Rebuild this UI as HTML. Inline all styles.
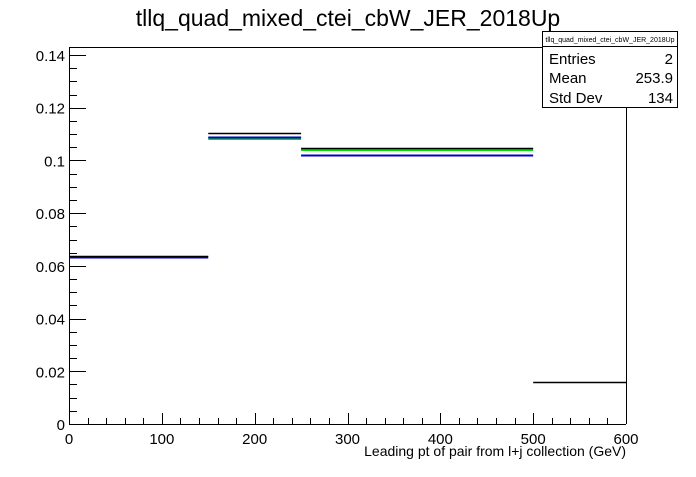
<!DOCTYPE html>
<html><head><meta charset="utf-8"><style>
body{margin:0;background:#fff;width:696px;height:472px;overflow:hidden}
svg text{font-family:"Liberation Sans",Arial,sans-serif}
</style></head><body>
<svg id="c" width="696" height="472" xmlns="http://www.w3.org/2000/svg">
<text x="348" y="26" font-size="23" text-anchor="middle">tllq_quad_mixed_ctei_cbW_JER_2018Up</text>
<g id="axes"></g>
<g id="marks"></g>
<g>
<rect x="542.5" y="31.5" width="135" height="76" fill="#fff" stroke="#000"/>
<line x1="542" y1="46.5" x2="678" y2="46.5" stroke="#000"/>
<text x="610" y="42" font-size="7" text-anchor="middle">tllq_quad_mixed_ctei_cbW_JER_2018Up</text>
<text x="549" y="64" font-size="15">Entries</text><text x="673" y="64" font-size="15" text-anchor="end">2</text>
<text x="549" y="83" font-size="15">Mean</text><text x="673" y="83" font-size="15" text-anchor="end">253.9</text>
<text x="549" y="103" font-size="15">Std Dev</text><text x="673" y="103" font-size="15" text-anchor="end">134</text>
</g>
<text x="626" y="456" font-size="14" text-anchor="end">Leading pt of pair from l+j collection (GeV)</text>
</svg>
<script>
const binEdges=[0,150,250,500,600];
const blackVals=[0.0634,0.1100,0.1042,0.0156];
const greenVals=[null,0.1085,0.1042,null];
const blueVals=[0.0634,0.1089,0.1022,null];
const xTicks=[0,100,200,300,400,500,600];
const yTicks=[0,0.02,0.04,0.06,0.08,0.1,0.12,0.14];
const yTickLabels=["0","0.02","0.04","0.06","0.08","0.1","0.12","0.14"];
const X0=69,X1=626,Y0=424,Y1=47;
const sx=v=>X0+v/600*(X1-X0);
const sy=v=>Y0-v/0.14*369;
const NS="http://www.w3.org/2000/svg";
const ax=document.getElementById('axes'),mk=document.getElementById('marks');
function ln(p,x1,y1,x2,y2,c,w){const l=document.createElementNS(NS,'line');l.setAttribute('x1',x1);l.setAttribute('y1',y1);l.setAttribute('x2',x2);l.setAttribute('y2',y2);l.setAttribute('stroke',c);l.setAttribute('stroke-width',w);p.appendChild(l);return l;}
function tx(x,y,s,a){const t=document.createElementNS(NS,'text');t.setAttribute('x',x);t.setAttribute('y',y);t.setAttribute('font-size',15);t.setAttribute('text-anchor',a);t.textContent=s;ax.appendChild(t);return t;}
let f=ln(ax,X0,Y0+.5,X1,Y0+.5,'#000',1);


f=ln(ax,X0+.5,Y1,X0+.5,Y0,'#000',1);


f=ln(ax,X0,Y1+.5,X1,Y1+.5,'#000',1);


f=ln(ax,X1+.5,Y1,X1+.5,Y0,'#000',1);


for(let v=0;v<=600;v+=20){const x=Math.round(sx(v))+.5;ln(ax,x,Y0,x,Y0-(v%100===0?11:6),'#000',1);}
for(let v=0;v<=0.1401;v+=0.005){const y=Math.round(sy(v))+.5;const maj=Math.abs(v/0.02-Math.round(v/0.02))<1e-6;ln(ax,X0,y,X0+(maj?17:8),y,'#000',1);}
xTicks.forEach(v=>{const t=tx(sx(v),Y0+20,String(v),'middle');});
yTicks.forEach((v,i)=>{const t=tx(X0-4,sy(v)+6,yTickLabels[i],'end');});
function series(vals,col,w,name,off){vals.forEach((v,i)=>{if(v==null)return;const y=Math.round(sy(v))+.5+off;const l=ln(mk,sx(binEdges[i]),y,sx(binEdges[i+1]),y,col,w);

});}
series(greenVals,'#00dd00',2,'green',0.5);
series(blueVals,'#0000cc',2,'blue',0);
series(blackVals,'#000',1.5,'black',-1);
</script>
</body></html>
